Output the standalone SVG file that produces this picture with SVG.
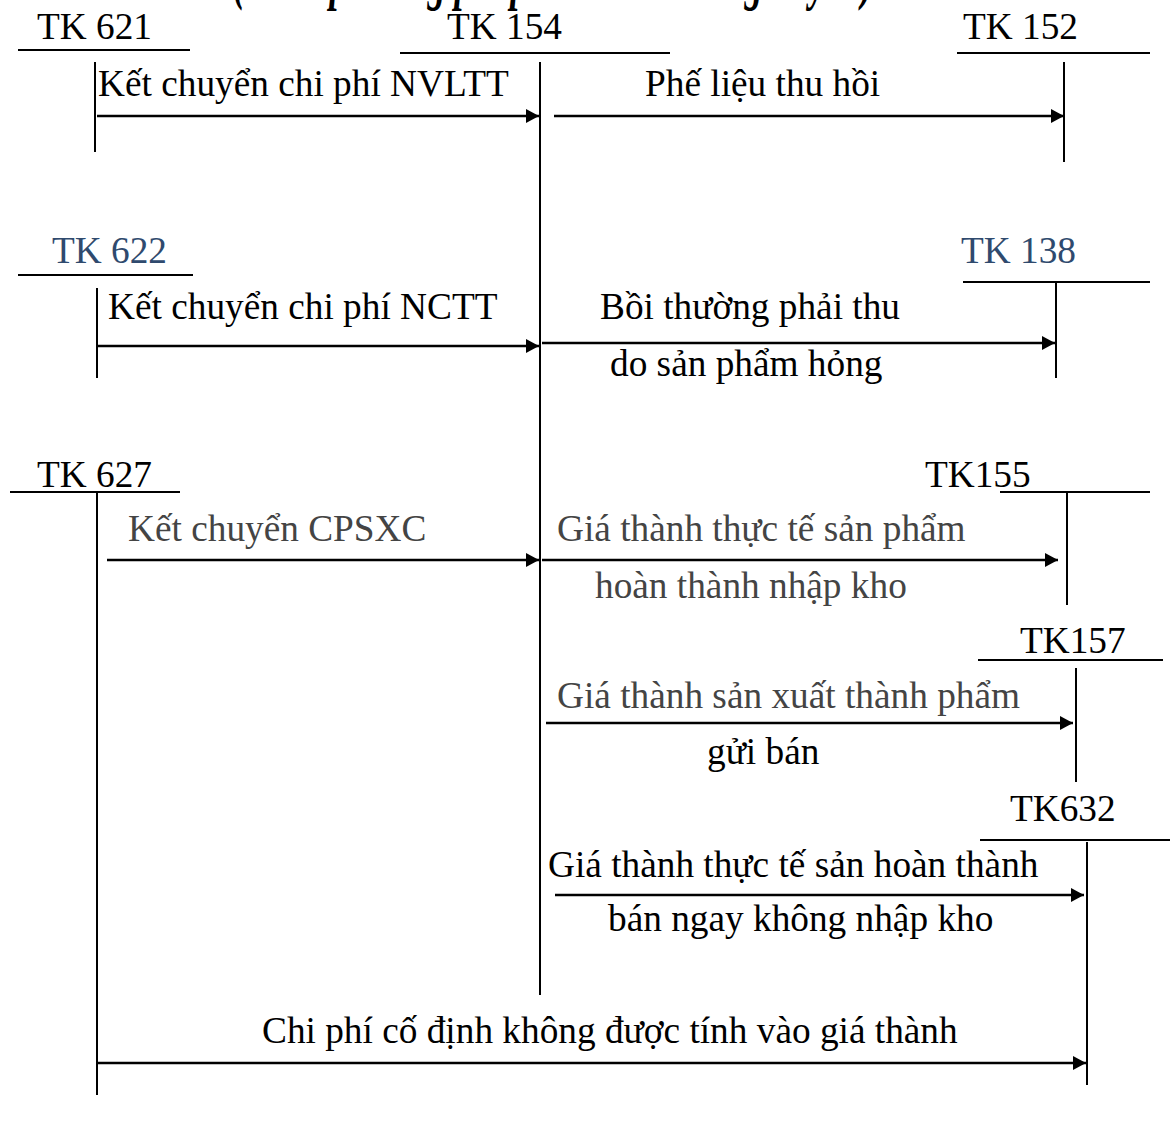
<svg xmlns="http://www.w3.org/2000/svg" width="1173" height="1124" viewBox="0 0 1173 1124">
  <style>
    text { font-family: "Liberation Serif", "Times New Roman", serif; font-size: 37.3px; fill: #000; }
    .title { font-weight: bold; font-style: italic; font-size: 60px; }
    .blue { fill: #2F4A6E; }
    .grey { fill: #444; }
    .t { stroke: #000; stroke-width: 2; fill: none; }
    .arrow { stroke: #000; stroke-width: 2.5; fill: none; marker-end: url(#head); }
  </style>
  <defs>
    <marker id="head" markerUnits="userSpaceOnUse" markerWidth="14" markerHeight="14" refX="13" refY="7" orient="auto">
      <path d="M0,0 L13,7 L0,14 z" fill="#000"/>
    </marker>
  </defs>
  <rect width="1173" height="1124" fill="#fff"/>

  <!-- heading, cut by the top edge -->
  <text class="title" x="233" y="-2" textLength="640" lengthAdjust="spacingAndGlyphs">(Theo phương pháp kê khai thường xuyên)</text>

  <!-- T-accounts -->
  <g id="tk621">
    <text x="37" y="39">TK 621</text>
    <path class="t" d="M18,50 H190 M95,62 V152"/>
  </g>
  <g id="tk154">
    <text x="447" y="39">TK 154</text>
    <path class="t" d="M400,53 H670 M540,62 V995"/>
  </g>
  <g id="tk152">
    <text x="963" y="39">TK 152</text>
    <path class="t" d="M957,53 H1150 M1064,62 V162"/>
  </g>
  <g id="tk622">
    <text class="blue" x="52" y="263">TK 622</text>
    <path class="t" d="M18,275 H193 M97,288 V378"/>
  </g>
  <g id="tk138">
    <text class="blue" x="961" y="263">TK 138</text>
    <path class="t" d="M963,282 H1150 M1056,282 V378"/>
  </g>
  <g id="tk627">
    <text x="37" y="487">TK 627</text>
    <path class="t" d="M10,492 H180 M97,492 V1095"/>
  </g>
  <g id="tk155">
    <text x="925" y="487">TK155</text>
    <path class="t" d="M1000,492 H1150 M1067,492 V605"/>
  </g>
  <g id="tk157">
    <text x="1020" y="653">TK157</text>
    <path class="t" d="M978,660 H1163 M1076,668 V782"/>
  </g>
  <g id="tk632">
    <text x="1010" y="821">TK632</text>
    <path class="t" d="M980,840 H1170 M1087,842 V1085"/>
  </g>

  <!-- entries between accounts -->
  <g id="connectors">
    <path class="arrow" d="M97,116 H539"/>
    <path class="arrow" d="M554,116 H1064"/>
    <path class="arrow" d="M97,346 H539"/>
    <path class="arrow" d="M542,343 H1055"/>
    <path class="arrow" d="M107,560 H539"/>
    <path class="arrow" d="M542,560 H1058"/>
    <path class="arrow" d="M546,723 H1073"/>
    <path class="arrow" d="M555,895 H1084"/>
    <path class="arrow" d="M97,1063 H1086"/>
  </g>

  <g id="labels">
    <text x="98" y="96">Kết chuyển chi phí NVLTT</text>
    <text x="645" y="96">Phế liệu thu hồi</text>
    <text x="108" y="319">Kết chuyển chi phí NCTT</text>
    <text x="600" y="319">Bồi thường phải thu</text>
    <text x="610" y="376">do sản phẩm hỏng</text>
    <text class="grey" x="128" y="541">Kết chuyển CPSXC</text>
    <text class="grey" x="557" y="541">Giá thành thực tế sản phẩm</text>
    <text class="grey" x="595" y="598">hoàn thành nhập kho</text>
    <text class="grey" x="557" y="708">Giá thành sản xuất thành phẩm</text>
    <text x="707" y="764">gửi bán</text>
    <text x="548" y="877">Giá thành thực tế sản hoàn thành</text>
    <text x="608" y="931">bán ngay không nhập kho</text>
    <text x="262" y="1043">Chi phí cố định không được tính vào giá thành</text>
  </g>
</svg>
